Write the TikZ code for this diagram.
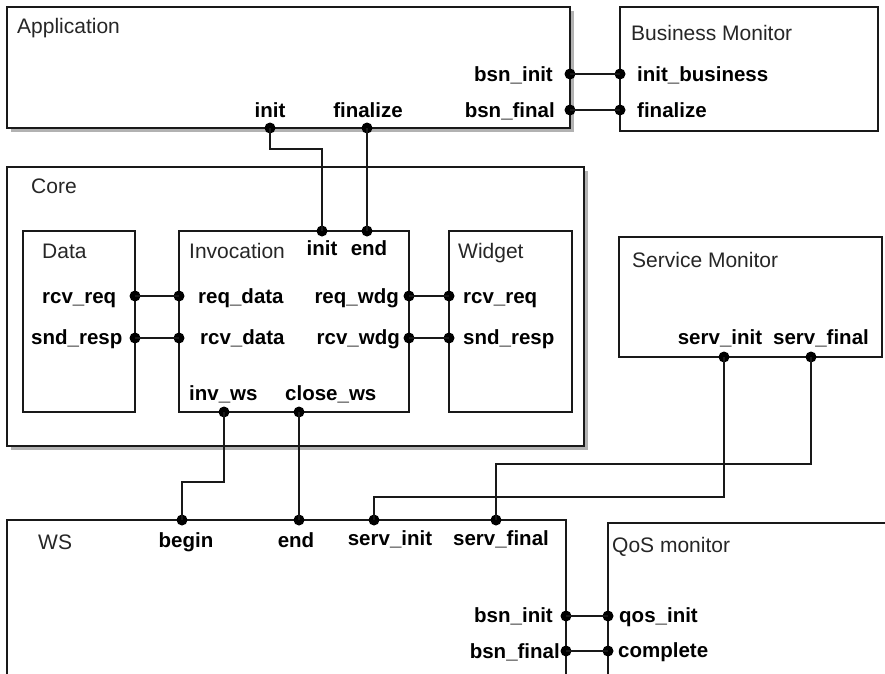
\documentclass[tikz,border=0pt]{standalone}
\usepackage{fontspec}
\setmainfont{Liberation Sans}
\usetikzlibrary{shadows}
\begin{document}
\begin{tikzpicture}[x=1pt,y=-1pt,
  box/.style={draw=black!90, line width=1.8pt, fill=white, anchor=north west, inner sep=0pt, outer sep=0pt},
  shbox/.style={box, general shadow={fill=black!30, shadow xshift=4pt, shadow yshift=-4pt}},
  title/.style={anchor=base west, font=\fontsize{21}{24}\selectfont, text=black!85, inner sep=0pt},
  lbl/.style={font=\bfseries\fontsize{20.5}{24}\selectfont, inner sep=0pt},
  wire/.style={line width=1.9pt, draw=black!90},
  port/.style={circle, fill=black, inner sep=0pt, minimum size=11pt}]
\path[use as bounding box] (0,0) rectangle (885,673);
\fill[white] (0,0) rectangle (885,673);
\clip (0,0) rectangle (885,673);

% boxes
\node[shbox, minimum width=563pt, minimum height=121pt] (app) at (7,7) {};
\node[box, minimum width=258pt, minimum height=124pt] (bm) at (620,7) {};
\node[shbox, minimum width=577pt, minimum height=279pt] (core) at (7,167) {};
\node[box, minimum width=112pt, minimum height=181pt] (data) at (23,231) {};
\node[box, minimum width=230pt, minimum height=181pt] (inv) at (179,231) {};
\node[box, minimum width=123pt, minimum height=181pt] (wdg) at (449,231) {};
\node[box, minimum width=263pt, minimum height=120pt] (sm) at (619,237) {};
\node[box, minimum width=559pt, minimum height=200pt] (ws) at (7,520) {};
\node[box, minimum width=300pt, minimum height=200pt] (qos) at (608,523) {};

% ports
\node[port] (appBI) at (570,74) {};
\node[port] (appBF) at (570,110) {};
\node[port] (bmIB) at (620,74) {};
\node[port] (bmFin) at (620,110) {};
\node[port] (appInit) at (270,128) {};
\node[port] (appFin) at (367,128) {};
\node[port] (invInit) at (322,231) {};
\node[port] (invEnd) at (367,231) {};
\node[port] (dataRR) at (135,296) {};
\node[port] (dataSR) at (135,338) {};
\node[port] (invRD) at (179,296) {};
\node[port] (invRcv) at (179,338) {};
\node[port] (invRW) at (409,296) {};
\node[port] (invRcW) at (409,338) {};
\node[port] (wgRR) at (449,296) {};
\node[port] (wgSR) at (449,338) {};
\node[port] (invWS) at (224,412) {};
\node[port] (invClose) at (299,412) {};
\node[port] (smInit) at (724,357) {};
\node[port] (smFinal) at (811,357) {};
\node[port] (wsBegin) at (182,520) {};
\node[port] (wsEnd) at (299,520) {};
\node[port] (wsSI) at (374,520) {};
\node[port] (wsSF) at (496,520) {};
\node[port] (wsBI) at (566,616) {};
\node[port] (wsBF) at (566,651) {};
\node[port] (qosI) at (608,616) {};
\node[port] (qosC) at (608,651) {};

% wires
\draw[wire] (appBI.center) -- (bmIB.center);
\draw[wire] (appBF.center) -- (bmFin.center);
\draw[wire] (appInit.center) -- ++(0,21) -| (invInit.center);
\draw[wire] (appFin.center) -- (invEnd.center);
\draw[wire] (dataRR.center) -- (invRD.center);
\draw[wire] (dataSR.center) -- (invRcv.center);
\draw[wire] (invRW.center) -- (wgRR.center);
\draw[wire] (invRcW.center) -- (wgSR.center);
\draw[wire] (invWS.center) -- ++(0,70) -| (wsBegin.center);
\draw[wire] (invClose.center) -- (wsEnd.center);
\draw[wire] (smInit.center) -- ++(0,140) -| (wsSI.center);
\draw[wire] (smFinal.center) -- ++(0,107) -| (wsSF.center);
\draw[wire] (wsBI.center) -- (qosI.center);
\draw[wire] (wsBF.center) -- (qosC.center);

% titles
\node[title] (tApp) at (17,33) {Application};
\node[title] (tBM) at (631,40) {Business Monitor};
\node[title] (tCore) at (31,193) {Core};
\node[title] (tData) at (42,258) {Data};
\node[title] (tInv) at (189,258) {Invocation};
\node[title] (tWdg) at (458,258) {Widget};
\node[title] (tSM) at (632,267) {Service Monitor};
\node[title] (tWS) at (38,549) {WS};
\node[title] (tQoS) at (612,552) {QoS monitor};

% labels
\node[lbl, anchor=base east] (lAppBI) at (553,81) {bsn\_init};
\node[lbl, anchor=base east] (lAppBF) at (555,117) {bsn\_final};
\node[lbl, anchor=base] (lAppInit) at (270,117) {init};
\node[lbl, anchor=base] (lAppFin) at (368,117) {finalize};
\node[lbl, anchor=base west] (lBmIB) at (637,81) {init\_business};
\node[lbl, anchor=base west] (lBmFin) at (637,117) {finalize};
\node[lbl, anchor=base west] (lDataRR) at (42,303) {rcv\_req};
\node[lbl, anchor=base west] (lDataSR) at (31,344) {snd\_resp};
\node[lbl, anchor=base] (lInvInit) at (322,255) {init};
\node[lbl, anchor=base] (lInvEnd) at (369,255) {end};
\node[lbl, anchor=base west] (lInvRD) at (198,303) {req\_data};
\node[lbl, anchor=base west] (lInvRcv) at (200,344) {rcv\_data};
\node[lbl, anchor=base east] (lInvRW) at (399,303) {req\_wdg};
\node[lbl, anchor=base east] (lInvRcW) at (400,344) {rcv\_wdg};
\node[lbl, anchor=base west] (lInvWS) at (189,400) {inv\_ws};
\node[lbl, anchor=base west] (lInvClose) at (285,400) {close\_ws};
\node[lbl, anchor=base west] (lWgRR) at (463,303) {rcv\_req};
\node[lbl, anchor=base west] (lWgSR) at (463,344) {snd\_resp};
\node[lbl, anchor=base] (lSmInit) at (720,344) {serv\_init};
\node[lbl, anchor=base] (lSmFinal) at (821,344) {serv\_final};
\node[lbl, anchor=base] (lWsBegin) at (186,547) {begin};
\node[lbl, anchor=base] (lWsEnd) at (296,547) {end};
\node[lbl, anchor=base] (lWsSI) at (390,545) {serv\_init};
\node[lbl, anchor=base] (lWsSF) at (501,545) {serv\_final};
\node[lbl, anchor=base east] (lWsBI) at (553,622) {bsn\_init};
\node[lbl, anchor=base east] (lWsBF) at (560,658) {bsn\_final};
\node[lbl, anchor=base west] (lQosI) at (619,622) {qos\_init};
\node[lbl, anchor=base west] (lQosC) at (618,657) {complete};
\end{tikzpicture}
\end{document}
